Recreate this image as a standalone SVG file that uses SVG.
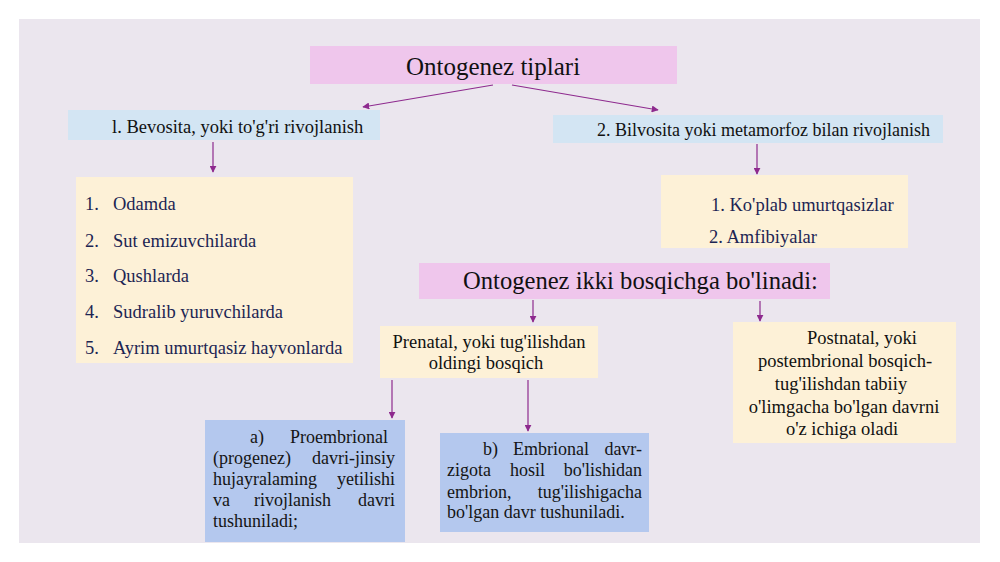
<svg xmlns="http://www.w3.org/2000/svg" width="1000" height="562" viewBox="0 0 1000 562">
<defs>
<marker id="ah" viewBox="0 0 10 10" refX="9" refY="5" markerWidth="7" markerHeight="7" markerUnits="userSpaceOnUse" orient="auto">
<path d="M0,0 L10,5 L0,10 z" fill="#8e2a8e"/>
</marker>
</defs>
<style>
text{font-family:"Liberation Serif","Times New Roman",serif;}
.h{font-size:25px;fill:#111;}
.m{font-size:18.5px;fill:#111;}
.l{font-size:18.5px;fill:#1c2553;}
.b{font-size:18px;fill:#151515;}
.pink{fill:#efc6ec;}
.blue{fill:#d3e5f3;}
.yel{fill:#fdf1d7;}
.dblue{fill:#b4c8ee;}
.c{stroke:#8e2a8e;stroke-width:1.2;fill:none;marker-end:url(#ah);}
</style>
<rect x="0" y="0" width="1000" height="562" fill="#ffffff"/>
<rect x="19" y="19" width="961" height="524" fill="#ebe6ee"/>

<g id="connectors">
<line class="c" x1="493" y1="85" x2="363" y2="107"/>
<line class="c" x1="512" y1="85" x2="658" y2="110"/>
<line class="c" x1="213" y1="142" x2="213" y2="172"/>
<line class="c" x1="757" y1="144" x2="757" y2="174"/>
<line class="c" x1="533" y1="300" x2="533" y2="322"/>
<line class="c" x1="760" y1="301" x2="760" y2="321"/>
<line class="c" x1="392" y1="380" x2="392" y2="418"/>
<line class="c" x1="528" y1="380" x2="528" y2="431"/>
</g>

<g id="n-title">
<rect class="pink" x="310" y="46" width="367" height="38"/>
<text class="h" x="493" y="75" text-anchor="middle">Ontogenez tiplari</text>
</g>

<g id="n-bevosita">
<rect class="blue" x="68" y="110" width="312" height="30"/>
<text class="m" x="112" y="133">l. Bevosita, yoki to'g'ri rivojlanish</text>
</g>

<g id="n-bilvosita">
<rect class="blue" x="553" y="115" width="390" height="28"/>
<text class="m" x="597" y="136" style="font-size:18px">2. Bilvosita yoki metamorfoz bilan rivojlanish</text>
</g>

<g id="n-list1">
<rect class="yel" x="76" y="177" width="277" height="186"/>
<text class="l" x="85" y="210">1.</text><text class="l" x="113" y="210">Odamda</text>
<text class="l" x="85" y="247">2.</text><text class="l" x="113" y="247">Sut emizuvchilarda</text>
<text class="l" x="85" y="282">3.</text><text class="l" x="113" y="282">Qushlarda</text>
<text class="l" x="85" y="318">4.</text><text class="l" x="113" y="318">Sudralib yuruvchilarda</text>
<text class="l" x="85" y="354">5.</text><text class="l" x="113" y="354">Ayrim umurtqasiz hayvonlarda</text>
</g>

<g id="n-list2">
<rect class="yel" x="661" y="175" width="247" height="73"/>
<text class="l" x="711" y="211">1. Ko'plab umurtqasizlar</text>
<text class="l" x="709" y="243">2. Amfibiyalar</text>
</g>

<g id="n-ikki">
<rect class="pink" x="419" y="263" width="411" height="36"/>
<text class="h" x="463" y="289" style="font-size:24.6px">Ontogenez ikki bosqichga bo'linadi:</text>
</g>

<g id="n-prenatal">
<rect class="yel" x="380" y="326" width="218" height="52"/>
<text class="m" x="489" y="348" text-anchor="middle">Prenatal, yoki tug'ilishdan</text>
<text class="m" x="486" y="369" text-anchor="middle">oldingi bosqich</text>
</g>

<g id="n-postnatal">
<rect class="yel" x="733" y="322" width="223" height="121"/>
<text class="m" x="862" y="344" text-anchor="middle">Postnatal, yoki</text>
<text class="m" x="845" y="367" text-anchor="middle">postembrional bosqich-</text>
<text class="m" x="841" y="390" text-anchor="middle">tug'ilishdan tabiiy</text>
<text class="m" x="844" y="413" text-anchor="middle">o'limgacha bo'lgan davrni</text>
<text class="m" x="842" y="435" text-anchor="middle">o'z ichiga oladi</text>
</g>

<g id="n-proembrional">
<rect class="dblue" x="205" y="420" width="200" height="122"/>
<text class="b" x="250" y="443">a)</text><text class="b" x="388" y="443" text-anchor="end">Proembrional</text>
<text class="b" x="213" y="464">(progenez)</text><text class="b" x="395" y="464" text-anchor="end">davri-jinsiy</text>
<text class="b" x="213" y="485">hujayralaming</text><text class="b" x="395" y="485" text-anchor="end">yetilishi</text>
<text class="b" x="213" y="506">va</text><text class="b" x="254" y="506">rivojlanish</text><text class="b" x="395" y="506" text-anchor="end">davri</text>
<text class="b" x="213" y="527">tushuniladi;</text>
</g>

<g id="n-embrional">
<rect class="dblue" x="440" y="433" width="209" height="99"/>
<text class="b" x="483" y="455">b)</text><text class="b" x="513" y="455">Embrional</text><text class="b" x="642" y="455" text-anchor="end">davr-</text>
<text class="b" x="447" y="476">zigota</text><text class="b" x="510" y="476">hosil</text><text class="b" x="642" y="476" text-anchor="end">bo'lishidan</text>
<text class="b" x="447" y="498">embrion,</text><text class="b" x="642" y="498" text-anchor="end">tug'ilishigacha</text>
<text class="b" x="447" y="518">bo'lgan davr tushuniladi.</text>
</g>
</svg>
